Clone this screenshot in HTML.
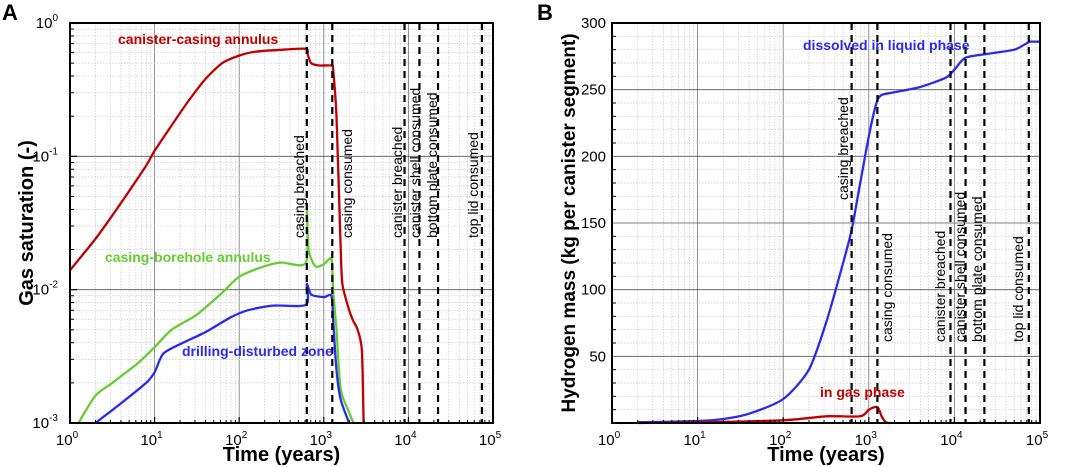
<!DOCTYPE html>
<html><head><meta charset="utf-8"><style>
html,body{margin:0;padding:0;background:#fff;}
svg{display:block;font-family:"Liberation Sans",Arial,sans-serif;}
</style></head><body>
<svg id="fig" width="1065" height="467" viewBox="0 0 1065 467"></svg>
<script>
// ---- data ----
const eventNames = ["casing breached","casing consumed","canister breached","canister shell consumed","bottom plate consumed","top lid consumed"];
const eventTimes = [630, 1260, 9000, 13500, 22400, 74000];
const xTickLabelsA = ["0","1","2","3","4","5"];
const yTickExpA = ["0","-1","-2","-3"];
const yTicksB = [50,100,150,200,250,300];
// Panel A (log10 time, saturation)
const redTA   = [0,0.3,0.5,0.7,0.9,1.0,1.2,1.4,1.6,1.8,2.0,2.2,2.5,2.79,2.81,2.85,2.95,3.09,3.11,3.15,3.2,3.22,3.3,3.35,3.4,3.45,3.47];
const redSA   = [0.014,0.024,0.036,0.055,0.085,0.11,0.17,0.26,0.38,0.5,0.57,0.61,0.63,0.64,0.58,0.5,0.48,0.48,0.45,0.2,0.02,0.011,0.007,0.0058,0.005,0.0035,0.001];
const greenTA = [0.1,0.3,0.5,0.8,1.0,1.2,1.5,1.8,2.0,2.3,2.5,2.79,2.8,2.82,2.9,3.0,3.09,3.11,3.15,3.2,3.3,3.35];
const greenSA = [0.001,0.0016,0.002,0.0028,0.0037,0.005,0.0065,0.0095,0.0125,0.015,0.016,0.016,0.04,0.02,0.015,0.0155,0.017,0.01,0.005,0.0018,0.0012,0.001];
const blueTA  = [0.3,0.6,0.9,1.0,1.1,1.3,1.6,1.9,2.1,2.4,2.79,2.8,2.85,3.0,3.09,3.11,3.15,3.2,3.3];
const blueSA  = [0.001,0.0014,0.002,0.0024,0.0033,0.0039,0.0048,0.0062,0.007,0.0076,0.0077,0.011,0.0092,0.0088,0.009,0.006,0.0025,0.0015,0.001];
// Panel B (log10 time, kg)
const liqTB = [0.3,1,1.3,1.6,2,2.3,2.5,2.7,2.8,2.9,3.0,3.09,3.15,3.3,3.6,3.9,4.0,4.13,4.4,4.7,4.85,4.88,5];
const liqMB = [0.5,1.5,3,7,18,40,75,120,145,180,215,240,246,248,252,259,265,274,277,280,285,286,286];
const gasTB = [0.3,1,2,2.5,2.9,3.0,3.1,3.15,3.2,3.25];
const gasMB = [0,0.5,2,5,5,10,12,5,0.5,0];

const NS="http://www.w3.org/2000/svg";
const svg=document.getElementById('fig');
function el(tag,attrs,parent){const e=document.createElementNS(NS,tag);for(const k in attrs)e.setAttribute(k,attrs[k]);(parent||svg).appendChild(e);return e;}
function smooth(pts){
  let d='M'+pts[0][0].toFixed(1)+','+pts[0][1].toFixed(1);
  for(let i=0;i<pts.length-1;i++){
    const p0=pts[Math.max(0,i-1)],p1=pts[i],p2=pts[i+1],p3=pts[Math.min(pts.length-1,i+2)];
    const k=8;
    const c1=[p1[0]+(p2[0]-p0[0])/k,p1[1]+(p2[1]-p0[1])/k];
    const c2=[p2[0]-(p3[0]-p1[0])/k,p2[1]-(p3[1]-p1[1])/k];
    d+='C'+c1[0].toFixed(1)+','+c1[1].toFixed(1)+' '+c2[0].toFixed(1)+','+c2[1].toFixed(1)+' '+p2[0].toFixed(1)+','+p2[1].toFixed(1);
  }
  return d;
}

function panel(P){
  const g=el('g',{});
  
  
  const X=lt=>P.x0+(lt)*(P.x1-P.x0)/5;
  for(let d=0;d<5;d++){for(let m=2;m<=9;m++){const x=X(d+Math.log10(m));el('line',{x1:x,x2:x,y1:P.y0,y2:P.y1,stroke:'#c8c8c8','stroke-width':0.7,'stroke-dasharray':'1.5,1.5'},g);}}
  for(let d=1;d<5;d++){const x=X(d);el('line',{x1:x,x2:x,y1:P.y0,y2:P.y1,stroke:'#777','stroke-width':0.8},g);}
  P.ygrid(g);
  P.series.forEach(s=>{
    const pts=s.t.map((t,i)=>[X(t),P.Y(s.v[i])]);
    const p=el('path',{d:smooth(pts),fill:'none',stroke:s.c,'stroke-width':2.3,'stroke-linejoin':'round'},g);
    
    
  });
  eventTimes.forEach((t,i)=>{
    const x=X(Math.log10(t));
    const l=el('line',{x1:x,x2:x,y1:P.y0,y2:P.y1,stroke:'#000','stroke-width':2.2,'stroke-dasharray':'7,5'},g);
    
    
    const lp=P.evLab[i];
    const tx=el('text',{x:0,y:0,transform:`translate(${lp[0]},${lp[1]}) rotate(-90)`,'font-size':14,fill:'#000'},g);
    tx.textContent=eventNames[i];
    
    
  });
  el('rect',{x:P.x0,y:P.y0,width:P.x1-P.x0,height:P.y1-P.y0,fill:'none',stroke:'#000','stroke-width':2},g);
  for(let d=0;d<=5;d++){
    const x=X(d);
    el('line',{x1:x,x2:x,y1:P.y1,y2:P.y1-6,stroke:'#000','stroke-width':1.2},g);
    const t=el('text',{x:x-3,y:P.y1+22,'font-size':15,'text-anchor':'middle',fill:'#000'},g);
    t.innerHTML='10<tspan dy="-7" font-size="10">'+xTickLabelsA[d]+'</tspan>';
    
    
  }
  for(let d=0;d<5;d++)for(let m=2;m<=9;m++){const x=X(d+Math.log10(m));el('line',{x1:x,x2:x,y1:P.y1,y2:P.y1-3,stroke:'#000','stroke-width':1},g);}
  const xt=el('text',{x:(P.x0+P.x1)/2,y:461,'font-size':20,'font-weight':'bold','text-anchor':'middle'},g);
  xt.textContent='Time (years)';
  
  
  P.labels.forEach(L=>{const t=el('text',{x:L[0],y:L[1],'font-size':14,'font-weight':'bold',fill:L[3]},g);t.textContent=L[2];});
  const pl=el('text',{x:P.plx,y:20,'font-size':22,'font-weight':'bold'},g);pl.textContent=P.pl;
  
  
  const yt=el('text',{x:0,y:0,transform:`translate(${P.ytx},${P.yty}) rotate(-90)`,'font-size':P.ytfs,'font-weight':'bold','text-anchor':'middle'},g);
  yt.textContent=P.ytitle;
  
  
}

// Panel A
(function(){
  const y0=23,y1=423;
  const Y=v=>y0+(-Math.log10(v))*(y1-y0)/3;
  panel({name:'panel-a',x0:70,x1:493,y0,y1,Y,pl:'A',plx:2,ytitle:'Gas saturation (-)',ytx:33,yty:223,ytfs:20,
    series:[{t:redTA,v:redSA,c:'#c00000',n:'canister-casing-line'},{t:greenTA,v:greenSA,c:'#66cc33',n:'casing-borehole-line'},{t:blueTA,v:blueSA,c:'#2a2aee',n:'ddz-line'}],
    evLab:[[304,238],[352,238],[402,238],[420,238],[437,238],[478,238]],
    labels:[[118,44,'canister-casing annulus','#c00000'],[105,262,'casing-borehole annulus','#66cc33'],[182,356,'drilling-disturbed zone','#2a2aee']],
    ygrid:function(g){
      for(let d=0;d<3;d++)for(let m=2;m<=9;m++){const y=Y(Math.pow(10,-d-1)*m);el('line',{x1:70,x2:493,y1:y,y2:y,stroke:'#c8c8c8','stroke-width':0.7,'stroke-dasharray':'1.5,1.5'},g);el('line',{x1:70,x2:74,y1:y,y2:y,stroke:'#000'},g);}
      for(let d=1;d<3;d++){const y=Y(Math.pow(10,-d));el('line',{x1:70,x2:493,y1:y,y2:y,stroke:'#555','stroke-width':0.8},g);}
      yTickExpA.forEach((e,i)=>{const y=Y(Math.pow(10,-i));el('line',{x1:70,x2:77,y1:y,y2:y,stroke:'#000','stroke-width':1.2},g);
        const t=el('text',{x:58,y:y+5,'font-size':15,'text-anchor':'end',fill:'#000'},g);
        t.innerHTML='10<tspan dy="-7" font-size="10">'+e+'</tspan>';
        
        });
    }});
})();
// Panel B
(function(){
  const y0=23,y1=423,x0=612,x1=1040;
  const Y=v=>y1-v*(y1-y0)/300;
  panel({name:'panel-b',x0,x1,y0,y1,Y,pl:'B',plx:537,ytitle:'Hydrogen mass (kg per canister segment)',ytx:575,yty:223,ytfs:19,
    series:[{t:liqTB,v:liqMB,c:'#2a2aee',n:'liquid-phase-line'},{t:gasTB,v:gasMB,c:'#c00000',n:'gas-phase-line'}],
    evLab:[[848,200],[892,342],[945,342],[965,342],[982,342],[1023,342]],
    labels:[[803,50,'dissolved in liquid phase','#2a2aee'],[820,397,'in gas phase','#c00000']],
    ygrid:function(g){
      for(let v=10;v<300;v+=10){if(v%50===0)continue;const y=Y(v);el('line',{x1:x0,x2:x1,y1:y,y2:y,stroke:'#c8c8c8','stroke-width':0.7,'stroke-dasharray':'1.5,1.5'},g);el('line',{x1:x0,x2:x0+4,y1:y,y2:y,stroke:'#000'},g);}
      yTicksB.forEach(v=>{const y=Y(v);el('line',{x1:x0,x2:x1,y1:y,y2:y,stroke:'#555','stroke-width':0.8},g);
        const t=el('text',{x:x0-6,y:y+5,'font-size':15,'text-anchor':'end',fill:'#000'},g);
        t.textContent=v;
        
        });
    }});
})();
</script>
</body></html>
